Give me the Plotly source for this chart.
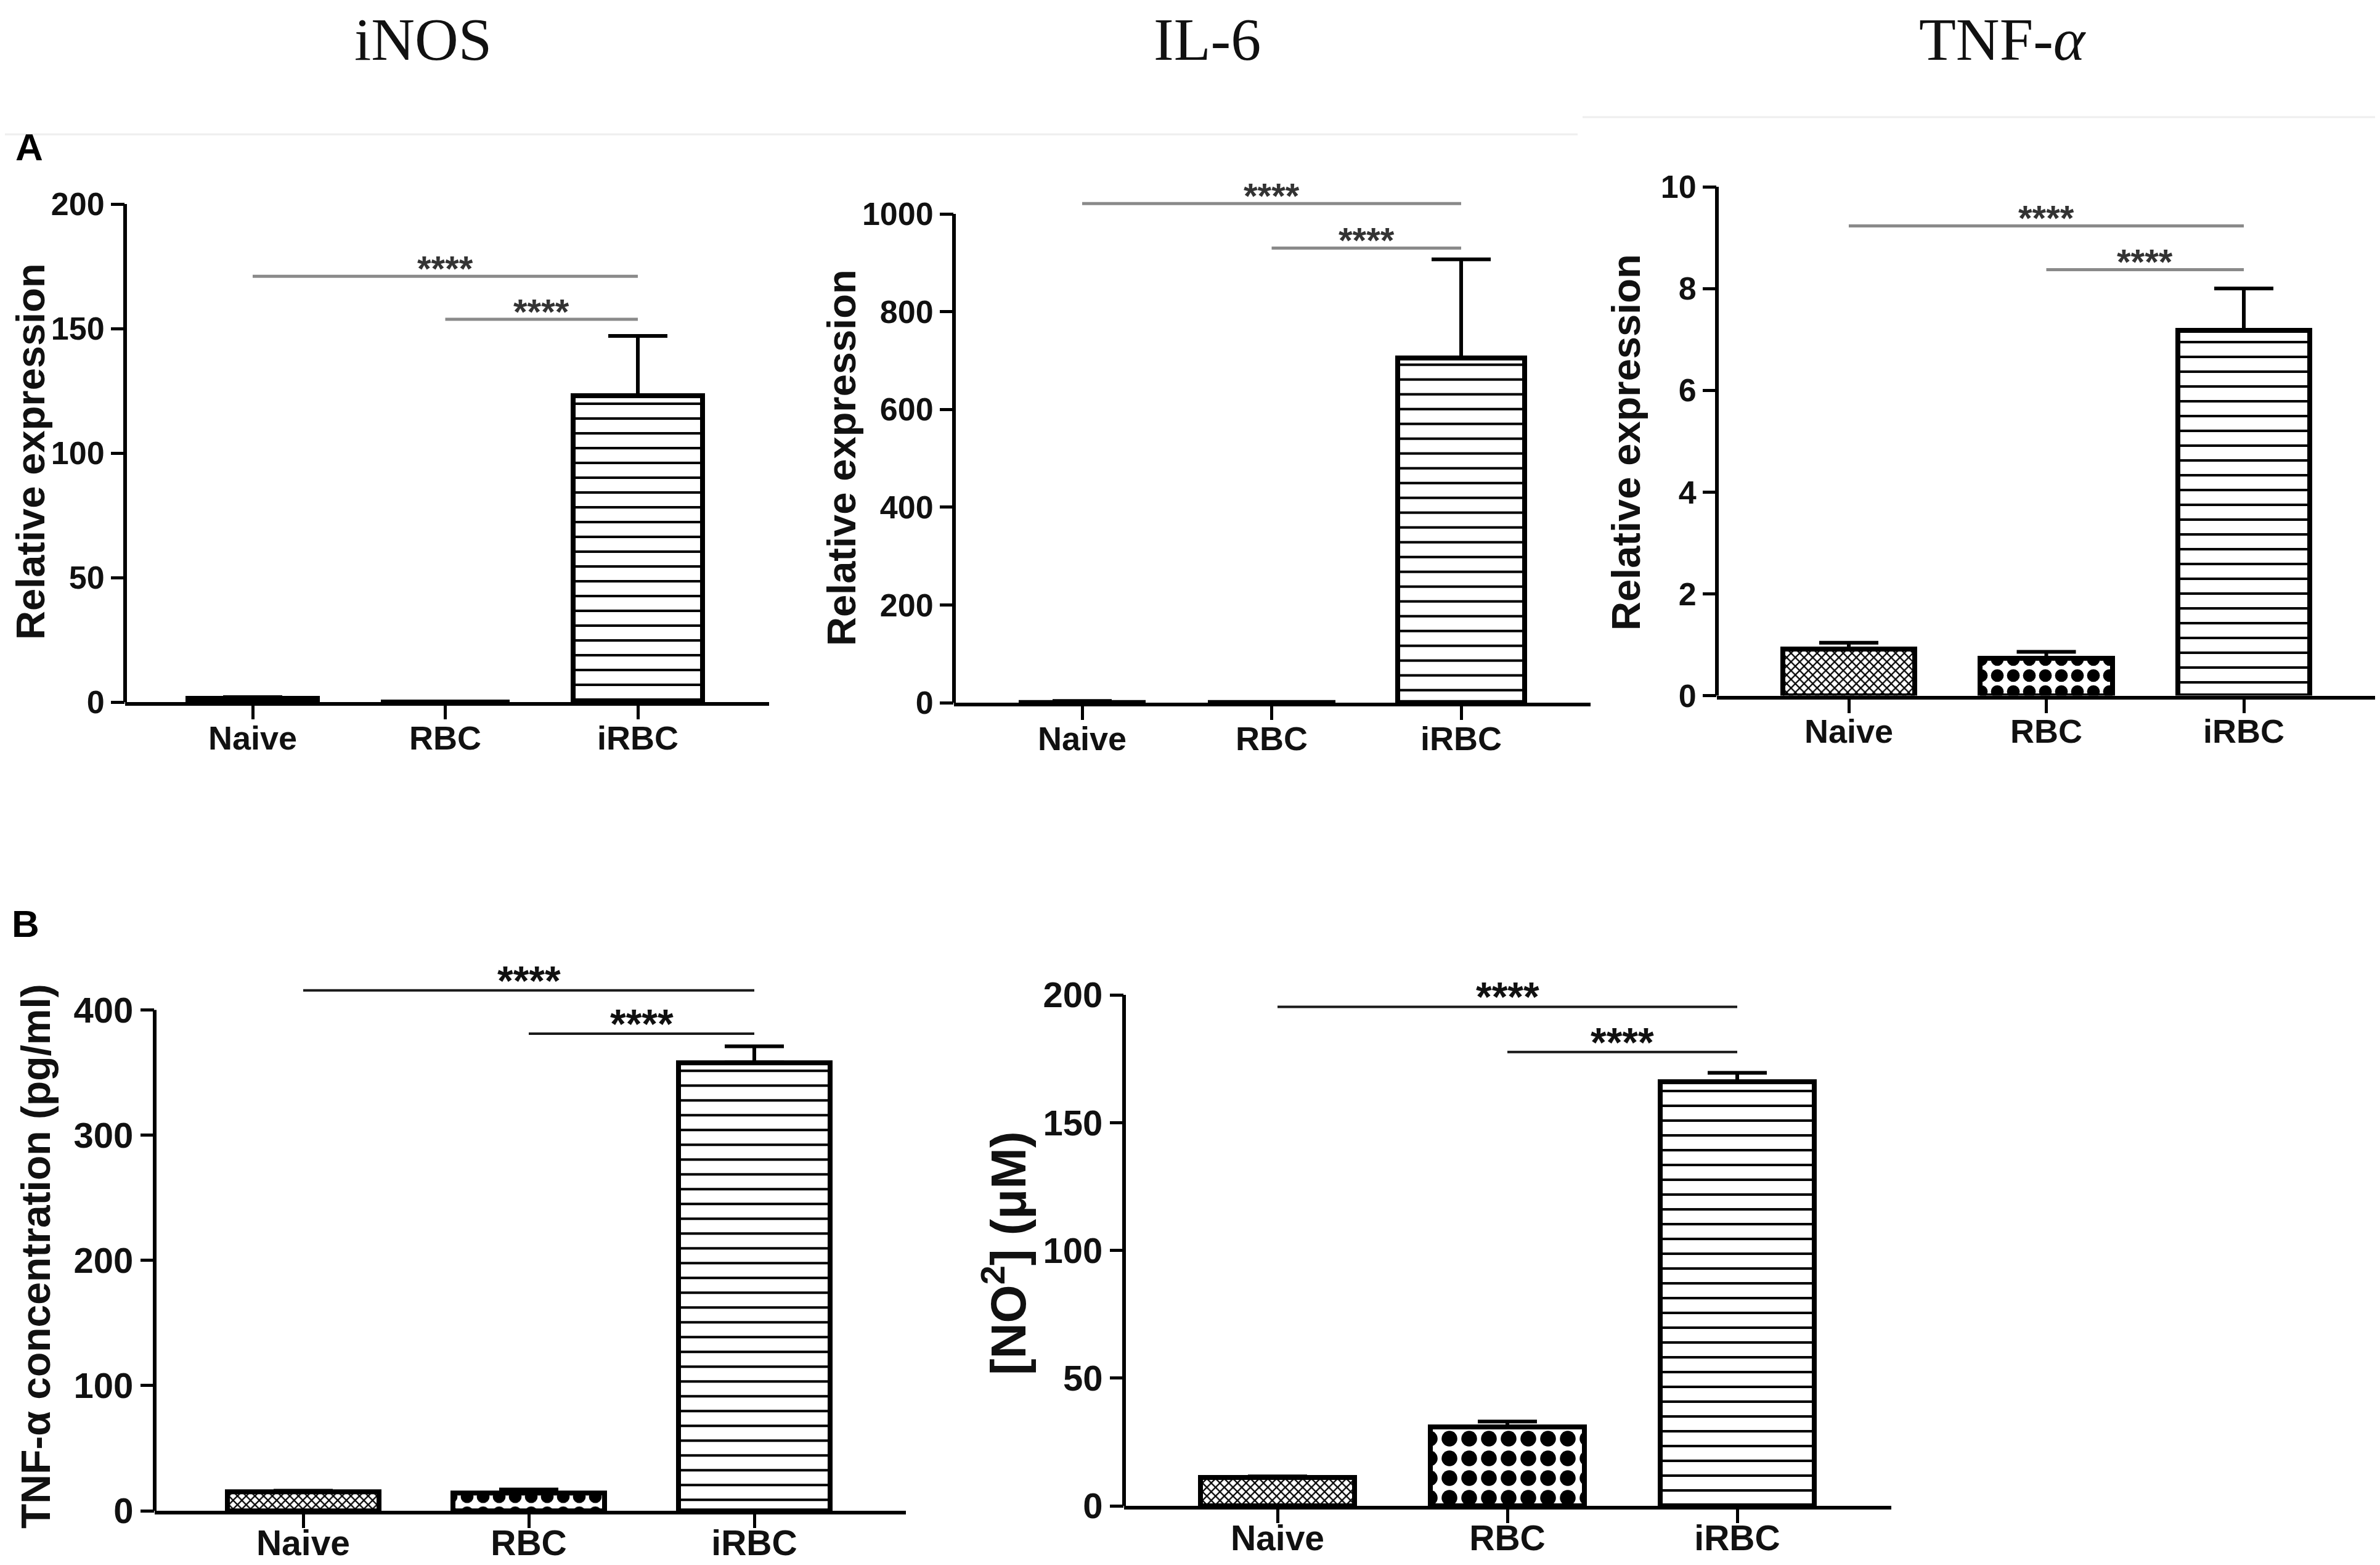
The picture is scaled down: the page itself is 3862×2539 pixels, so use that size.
import plotly.graph_objects as go

W, H = 3862, 2539

# ---------------- data ----------------
categories = ["Naive", "RBC", "iRBC"]
x_pos = [0, 1, 2]

inos_mean = [1.5, 0, 123]
inos_err = [0.5, 0.0, 24]
il6_mean = [1.0, 0, 705]
il6_err = [2.5, 0.0, 202]
tnf_rel_mean = [0.91, 0.73, 7.18]
tnf_rel_err = [0.13, 0.13, 0.82]
tnf_conc_mean = [15, 14, 358]
tnf_conc_err = [1, 3, 13]
no2_mean = [11, 31, 166]
no2_err = [0.5, 2, 3.5]

inos_ticks = [0, 50, 100, 150, 200]
il6_ticks = [0, 200, 400, 600, 800, 1000]
tnf_rel_ticks = [0, 2, 4, 6, 8, 10]
tnf_conc_ticks = [0, 100, 200, 300, 400]
no2_ticks = [0, 50, 100, 150, 200]

# significance bars: heights (Naive-iRBC, RBC-iRBC)
inos_sig = [171, 153.7]
il6_sig = [1021, 930]
tnf_rel_sig = [9.23, 8.37]
tnf_conc_sig = [415.6, 381]
no2_sig = [195.3, 177.6]
sig_label = "****"

titles = ["iNOS", "IL-6", "TNF-<i>α</i>"]
ylab_rel = "Relative expression"
ylab_tnf = "TNF-α concentration (pg/ml)"
ylab_no2 = "[NO<sup>2</sup>] (μM)"

# ---------------- layout specs (pixels) ----------------
SANS = "Liberation Sans, Arial, sans-serif"
SERIF = "Liberation Serif, Times New Roman, serif"

A_style = dict(tickfs=52, catfs=54, catoff=-16, sigc="#8a8a8a", sigw=5, starc="#333333",
               starfs=58, starshift=13)
B_style = dict(tickfs=58, catfs=57, catoff=-24, sigc="#1a1a1a", sigw=4, starc="#111111",
               starfs=66, starshift=16)

panels = [
    dict(mean=inos_mean, err=inos_err, ticks=inos_ticks, sig=inos_sig, ymax=200,
         ax=195, end=1240, c0=402, sp=312.5, y0=1131, yt=323, rbc=26,
         ylab=ylab_rel, ylx=42, yly=725, ylfs=65, **A_style),
    dict(mean=il6_mean, err=il6_err, ticks=il6_ticks, sig=il6_sig, ymax=1100,
         ax=1540, end=2573, c0=1748, sp=307.5, y0=1132, yt=339, rbc=26,
         ylab=ylab_rel, ylx=1358, yly=735, ylfs=65, **A_style),
    dict(mean=tnf_rel_mean, err=tnf_rel_err, ticks=tnf_rel_ticks, sig=tnf_rel_sig, ymax=10,
         ax=2778, end=3846, c0=2992, sp=320.5, y0=1120.5, yt=295, rbc=26,
         ylab=ylab_rel, ylx=2630, yly=710, ylfs=65, **A_style),
    dict(mean=tnf_conc_mean, err=tnf_conc_err, ticks=tnf_conc_ticks, sig=tnf_conc_sig, ymax=440,
         ax=243, end=1462, c0=484, sp=366, y0=2443, yt=1630.5, rbc=26,
         ylab=ylab_tnf, ylx=50, yly=2030, ylfs=66, **B_style),
    dict(mean=no2_mean, err=no2_err, ticks=no2_ticks, sig=no2_sig, ymax=200,
         ax=1816, end=3061, c0=2065, sp=373, y0=2435, yt=1606, rbc=32,
         ylab=ylab_no2, ylx=1622, yly=2025, ylfs=80, **B_style),
]

pattern_shapes = ["x", ".", "-"]
pattern_solid = [0.4, 0.5, 0.17]

fig = go.Figure()
shapes = []
annotations = []
layout = {}

for i, p in enumerate(panels):
    n = "" if i == 0 else str(i + 1)
    xa, ya = "x" + n, "y" + n
    ppu = (p["y0"] - p["yt"]) / p["ticks"][-1]
    top_px = p["y0"] - p["ymax"] * ppu
    xr = [(p["ax"] - p["c0"]) / p["sp"], (p["end"] - p["c0"]) / p["sp"]]

    fig.add_trace(go.Bar(
        x=x_pos, y=p["mean"], xaxis=xa, yaxis=ya, width=0.67,
        marker=dict(color="white",
                    line=dict(color="black", width=8),
                    pattern=dict(shape=pattern_shapes, size=[10, p["rbc"], 24],
                                 solidity=pattern_solid, fgcolor="black",
                                 bgcolor="white", fillmode="replace")),
        error_y=dict(type="data", symmetric=False, array=p["err"],
                     arrayminus=[0, 0, 0], color="black", thickness=6, width=48),
        showlegend=False, hoverinfo="skip",
    ))

    layout["xaxis" + n] = dict(
        domain=[p["ax"] / W, p["end"] / W], range=xr, anchor=ya,
        tickvals=x_pos, ticktext=categories, showline=True, linewidth=6,
        linecolor="black", ticks="outside", ticklen=22, tickwidth=5,
        tickcolor="black", showgrid=False, zeroline=False,
        ticklabelstandoff=p["catoff"],
        tickfont=dict(family=SANS, size=p["catfs"], color="#111111", weight=700),
        fixedrange=True,
    )
    layout["yaxis" + n] = dict(
        domain=[1 - p["y0"] / H, 1 - top_px / H], range=[0, p["ymax"]], anchor=xa,
        tickvals=p["ticks"], showline=False, ticks="outside", ticklen=22,
        tickwidth=5, tickcolor="black", showgrid=False, zeroline=False,
        tickfont=dict(family=SANS, size=p["tickfs"], color="#111111", weight=700),
        fixedrange=True,
    )

    # y axis line only up to the last tick
    shapes.append(dict(type="line", xref=xa + " domain", yref=ya + " domain",
                       x0=0, x1=0, y0=0, y1=p["ticks"][-1] / p["ymax"],
                       line=dict(color="black", width=6)))
    # significance bars
    for (xs, xe), yv in zip([(0, 2), (1, 2)], p["sig"]):
        shapes.append(dict(type="line", xref=xa, yref=ya, x0=xs, x1=xe, y0=yv, y1=yv,
                           line=dict(color=p["sigc"], width=p["sigw"])))
        annotations.append(dict(xref=xa, yref=ya, x=(xs + xe) / 2, y=yv,
                                text=sig_label, showarrow=False, yanchor="middle",
                                yshift=p["starshift"],
                                font=dict(family=SANS, size=p["starfs"], color=p["starc"],
                                          weight=700)))
    # y-axis title
    annotations.append(dict(xref="paper", yref="paper", x=p["ylx"] / W, y=1 - p["yly"] / H,
                            text=p["ylab"], showarrow=False, textangle=-90,
                            xanchor="center", yanchor="middle",
                            font=dict(family=SANS, size=p["ylfs"], color="#111111", weight=700)))

# column titles
for t, cx in zip(titles, [678, 1951, 3242]):
    annotations.append(dict(xref="paper", yref="paper", x=cx / W, y=1, text=t,
                            showarrow=False, xanchor="center", yanchor="top",
                            font=dict(family=SERIF, size=98, color="#111111")))
# panel letters
for t, (cx, cy) in zip(["A", "B"], [(39, 230), (33, 1490)]):
    annotations.append(dict(xref="paper", yref="paper", x=cx / W, y=1 - cy / H, text=t,
                            showarrow=False, xanchor="center", yanchor="middle",
                            font=dict(family=SANS, size=62, color="black", weight=700)))

# faint separator lines under the titles
shapes.append(dict(type="line", xref="paper", yref="paper", x0=0, x1=2552 / W,
                   y0=1 - 210 / H, y1=1 - 210 / H, line=dict(color="#eeeeee", width=3)))
shapes.append(dict(type="line", xref="paper", yref="paper", x0=2560 / W, x1=1,
                   y0=1 - 182 / H, y1=1 - 182 / H, line=dict(color="#eeeeee", width=3)))

fig.update_layout(
    width=W, height=H, margin=dict(l=0, r=0, t=0, b=0, autoexpand=False),
    paper_bgcolor="white", plot_bgcolor="white",
    shapes=shapes, annotations=annotations, bargap=0, **layout,
)

fig.write_html("out.html", config={"displayModeBar": False})
